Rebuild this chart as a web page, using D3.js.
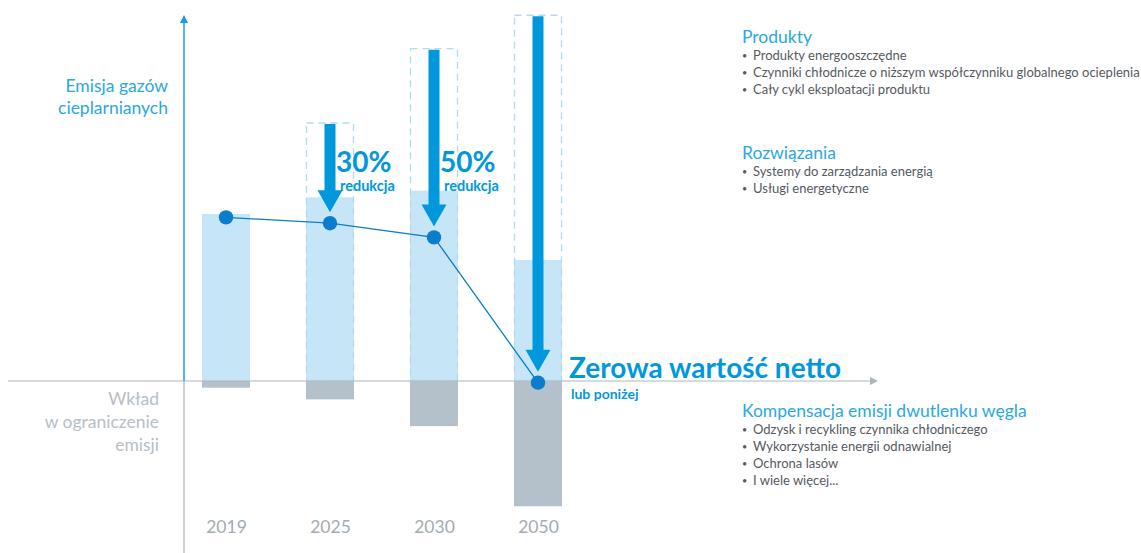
<!DOCTYPE html>
<html><head><meta charset="utf-8">
<script src="https://cdn.jsdelivr.net/npm/d3@7"></script>
<style>body{margin:0;background:#fff}svg{display:block}text{font-family:Lato,"Open Sans",sans-serif}</style>
</head><body><svg id="c" width="1141" height="553"></svg>
<script>
// ---- data ----
const years = ["2019","2025","2030","2050"];
const emissions = [100, 110, 114, 72.5];      // light bars (remaining emissions)
const offsets = [-4, -11, -27, -75];          // gray bars (contribution to reduction)
const baseline = [null, 154.5, 199, 219];      // dashed "business as usual" boxes
const netValues = [98, 94.5, 86, -1];          // net emissions (dots + line)
const reductionLabels = [null, "30%", "50%", null];
const reductionSub = "redukcja";
const yAxisTop = ["Emisja gazów", "cieplarnianych"];
const yAxisBottom = ["Wkład", "w ograniczenie", "emisji"];
const groups = [
  {title:"Produkty", items:["Produkty energooszczędne","Czynniki chłodnicze o niższym współczynniku globalnego ocieplenia","Cały cykl eksploatacji produktu"]},
  {title:"Rozwiązania", items:["Systemy do zarządzania energią","Usługi energetyczne"]},
  {title:"Kompensacja emisji dwutlenku węgla", items:["Odzysk i recykling czynnika chłodniczego","Wykorzystanie energii odnawialnej","Ochrona lasów","I wiele więcej..."]}
];
const netZeroTitle = "Zerowa wartość netto";
const netZeroSub = "lub poniżej";

// ---- styles ----
const C = {arrow:"#0098dd", dot:"#0a7dcc", light:"#c6e6f7", gray:"#b4c1ca", dash:"#b0dbf2",
  axisBlue:"#1b9ce2", axisGray:"#aab5be", labelBlue:"#2aa8e0", labelGray:"#b7bec5", text:"#555a5f", year:"#a3abb2"};

const svg = d3.select("#c");
const x = d3.scalePoint().domain(years).range([226, 538]);
const y = d3.scaleLinear().domain([0, 100]).range([381, 214]);
const bw = 48;

// bars
const g = svg.append("g");
years.forEach((yr, i) => {
  const cx = x(yr);
  g.append("rect").attr("x", cx - bw/2).attr("width", bw)
    .attr("y", y(emissions[i])).attr("height", y(0) - y(emissions[i])).attr("fill", C.light);
  g.append("rect").attr("x", cx - bw/2).attr("width", bw)
    .attr("y", y(0)).attr("height", y(offsets[i]) - y(0)).attr("fill", C.gray);
  if (baseline[i] != null) {
    g.append("rect").attr("x", cx - bw/2 + 0.5).attr("width", bw - 1)
      .attr("y", y(baseline[i])).attr("height", y(0) - y(baseline[i]))
      .attr("fill", "none").attr("stroke", C.dash).attr("stroke-width", 1.3)
      .attr("stroke-dasharray", "7,5");
  }
});

// axes lines
svg.append("line").attr("x1", 8).attr("x2", 872).attr("y1", y(0)).attr("y2", y(0))
  .attr("stroke", C.axisGray).attr("stroke-width", 1.2);
svg.append("path").attr("d", `M878,${y(0)} L870,${y(0)-4} L870,${y(0)+4}Z`).attr("fill", C.axisGray);
svg.append("line").attr("x1", 184).attr("x2", 184).attr("y1", 20).attr("y2", y(0))
  .attr("stroke", C.axisBlue).attr("stroke-width", 1.5);
svg.append("path").attr("d", "M184,15 L180,23 L188,23Z").attr("fill", C.axisBlue);
svg.append("line").attr("x1", 184).attr("x2", 184).attr("y1", y(0)).attr("y2", 553)
  .attr("stroke", C.axisGray).attr("stroke-width", 1.2);

// arrows
years.forEach((yr, i) => {
  if (baseline[i] == null) return;
  const cx = x(yr);
  const top = y(baseline[i]) + 1;
  const tip = y(netValues[i]) - 11;
  const headH = 22, headW = 12.5, sw = 5.5;
  svg.append("path").attr("fill", C.arrow)
    .attr("d", `M${cx-sw},${top} L${cx+sw},${top} L${cx+sw},${tip-headH} L${cx+headW},${tip-headH} L${cx},${tip} L${cx-headW},${tip-headH} L${cx-sw},${tip-headH}Z`);
  if (reductionLabels[i]) {
    svg.append("text").attr("x", cx + 6).attr("y", 172).attr("font-size", 28).attr("font-weight", 700)
      .attr("fill", C.arrow).text(reductionLabels[i]);
    svg.append("text").attr("x", cx + 10).attr("y", 190.5).attr("font-size", 14.5).attr("font-weight", 700)
      .attr("fill", C.arrow).text(reductionSub);
  }
});

// net line + dots
const line = d3.line().x((d, i) => x(years[i])).y(d => y(d));
svg.append("path").datum(netValues).attr("d", line).attr("fill", "none")
  .attr("stroke", C.dot).attr("stroke-width", 1.3);
svg.selectAll("circle.net").data(netValues).join("circle").attr("class", "net")
  .attr("cx", (d, i) => x(years[i])).attr("cy", d => y(d)).attr("r", 7.2).attr("fill", C.dot);

// year axis
const xa = svg.append("g").attr("transform", "translate(0,517)")
  .call(d3.axisBottom(x).tickSize(0).tickPadding(4));
xa.select(".domain").remove();
xa.selectAll("text").attr("font-size", 17.5).attr("fill", C.year).attr("font-family", "Lato, sans-serif");

// net zero label
svg.append("text").attr("x", 569).attr("y", 378).attr("font-size", 28).attr("font-weight", 700)
  .attr("fill", C.arrow).text(netZeroTitle);
svg.append("text").attr("x", 571).attr("y", 399).attr("font-size", 14).attr("font-weight", 700)
  .attr("fill", C.arrow).text(netZeroSub);

// y-axis labels
yAxisTop.forEach((t, i) => svg.append("text").attr("x", 168).attr("y", 92 + i*22)
  .attr("text-anchor", "end").attr("font-size", 17.5).attr("fill", C.labelBlue).text(t));
yAxisBottom.forEach((t, i) => svg.append("text").attr("x", 159).attr("y", 405 + i*23)
  .attr("text-anchor", "end").attr("font-size", 17.5).attr("fill", C.labelGray).text(t));

// right side groups
const groupY = [43, 159, 417];
groups.forEach((gr, gi) => {
  const gy = groupY[gi];
  svg.append("text").attr("x", 742).attr("y", gy).attr("font-size", 17.5).attr("fill", C.labelBlue).text(gr.title);
  gr.items.forEach((it, k) => {
    const yy = gy + 17 + k*17;
    svg.append("text").attr("x", 742).attr("y", yy - 1).attr("font-size", 9).attr("fill", C.text).text("•");
    svg.append("text").attr("x", 753).attr("y", yy).attr("font-size", 13).attr("fill", C.text).text(it);
  });
});
</script></body></html>
